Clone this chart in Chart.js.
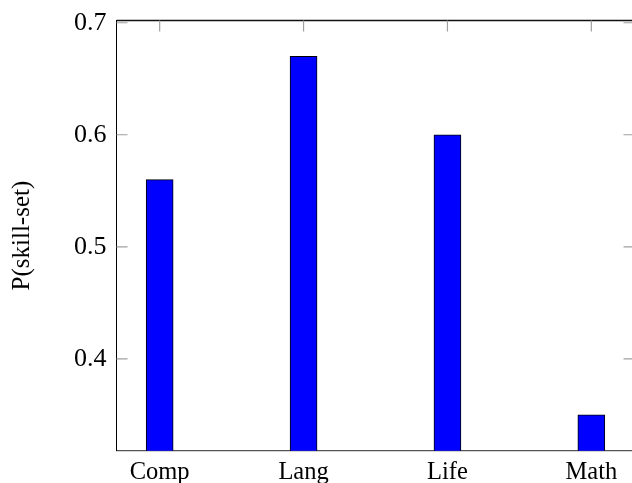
<!DOCTYPE html>
<html>
<head>
<meta charset="utf-8">
<script src="https://cdn.jsdelivr.net/npm/chart.js@4/dist/chart.umd.min.js"></script>
<style>
  html, body { margin: 0; padding: 0; background: #fff; overflow: hidden; }
  #wrap { position: relative; width: 640px; height: 483px; }
</style>
</head>
<body>
<div id="wrap"><canvas id="chart"></canvas></div>
<script>
// values
const categories = ['Comp', 'Lang', 'Life', 'Math'];
const probabilities = [0.56, 0.67, 0.60, 0.35];
const yTicks = [0.4, 0.5, 0.6, 0.7];

const serif = "'Liberation Serif', 'Times New Roman', serif";

// pgfplots-like frame: top line plus inward tick marks
const frameTicks = {
    id: 'frameTicks',
    afterDraw(chart) {
        const { ctx, chartArea: a, scales } = chart;
        const len = 11;
        ctx.save();
        ctx.strokeStyle = '#111';
        ctx.lineWidth = 1.3;
        ctx.beginPath();
        ctx.moveTo(a.left, a.top);
        ctx.lineTo(a.right, a.top);
        ctx.stroke();

        ctx.strokeStyle = '#a0a0a0';
        ctx.lineWidth = 1.2;
        ctx.beginPath();
        yTicks.forEach(v => {
            const y = scales.y.getPixelForValue(v);
            ctx.moveTo(a.left, y); ctx.lineTo(a.left + len, y);
            ctx.moveTo(a.right, y); ctx.lineTo(a.right - len, y);
        });
        categories.forEach((c, i) => {
            const x = scales.x.getPixelForValue(i);
            ctx.moveTo(x, a.top); ctx.lineTo(x, a.top + len);
        });
        ctx.stroke();
        ctx.restore();
    }
};

new Chart(document.getElementById('chart'), {
    type: 'bar',
    data: {
        datasets: [{
            data: probabilities.map((v, i) => ({ x: i, y: v })),
            backgroundColor: '#0000ff',
            borderColor: '#000',
            borderWidth: 1,
            barThickness: 27
        }]
    },
    options: {
        responsive: true,
        maintainAspectRatio: false,
        animation: false,
        layout: { padding: { top: 20.5, right: 5.5, left: 0, bottom: 0 } },
        plugins: { legend: { display: false }, tooltip: { enabled: false } },
        scales: {
            x: {
                type: 'linear',
                offset: false,
                min: -0.3,
                max: 3.3,
                grid: { display: false, drawTicks: false },
                border: { display: true, color: '#555', width: 1.3 },
                afterBuildTicks: axis => { axis.ticks = categories.map((c, i) => ({ value: i })); },
                afterFit: axis => {
                    axis.height = 32.3;
                    axis.paddingLeft = 0;
                    axis.paddingRight = 0;
                },
                ticks: {
                    padding: 7,
                    color: '#000',
                    font: { family: serif, size: 24.5 },
                    callback: v => categories[v]
                }
            },
            y: {
                min: 0.318,
                max: 0.702,
                grid: { display: false, drawTicks: false },
                border: { display: true, color: '#000', width: 1 },
                afterBuildTicks: axis => { axis.ticks = yTicks.map(v => ({ value: v })); },
                afterFit: axis => {
                    axis.width = 116.5;
                    axis.paddingTop = 0;
                    axis.paddingBottom = 0;
                },
                ticks: {
                    padding: 10,
                    color: '#000',
                    font: { family: serif, size: 26 },
                    callback: v => v.toFixed(1)
                },
                title: {
                    display: true,
                    text: 'P(skill-set)',
                    color: '#000',
                    font: { family: serif, size: 25, lineHeight: 1.2 },
                    padding: { top: 7, bottom: 0 }
                }
            }
        }
    },
    plugins: [frameTicks]
});
</script>
</body>
</html>
